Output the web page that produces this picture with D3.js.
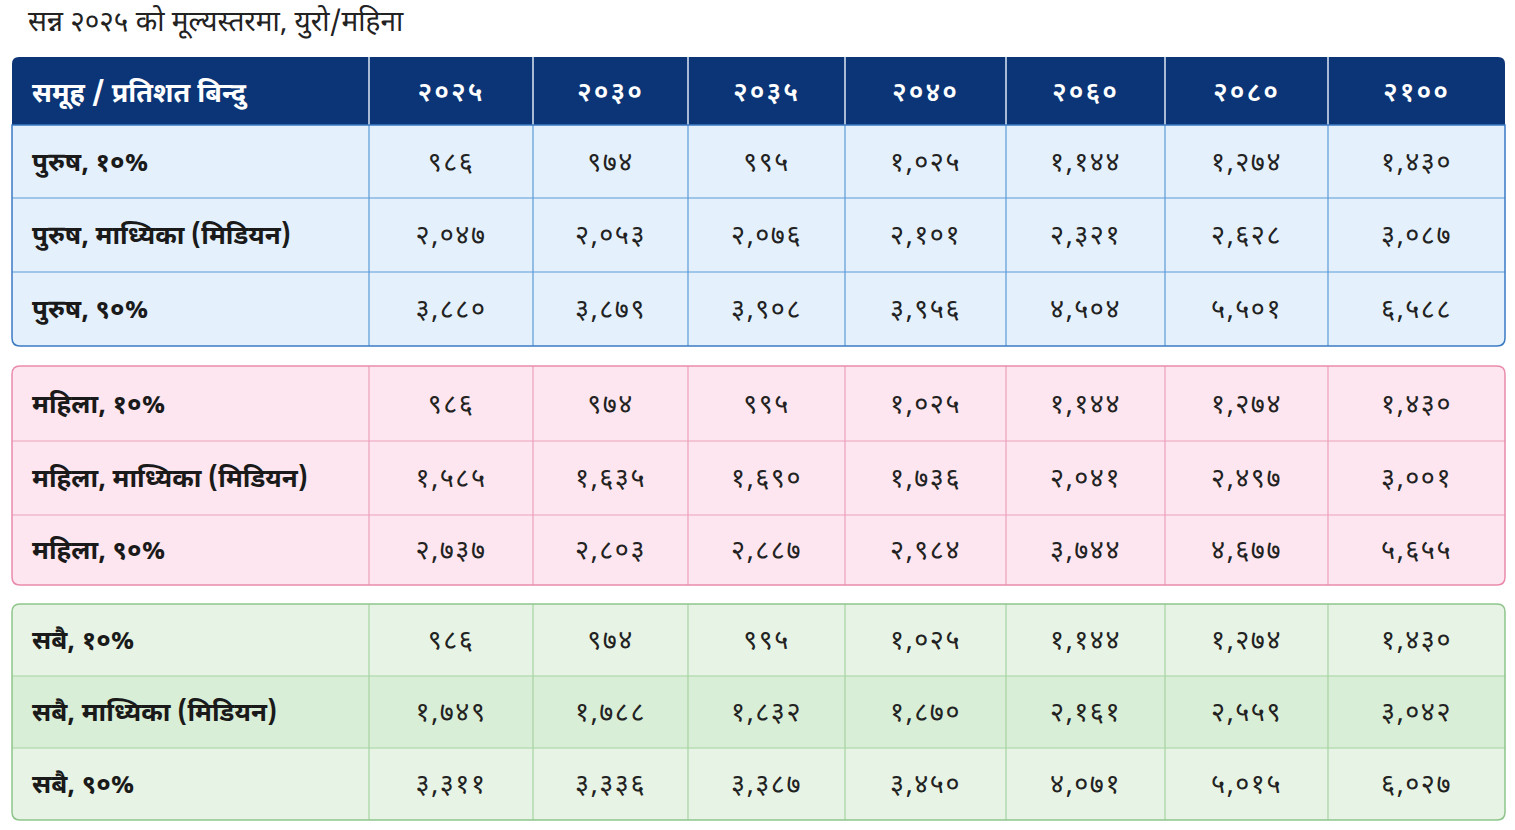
<!DOCTYPE html>
<html>
<head>
<meta charset="utf-8">
<script src="https://cdn.jsdelivr.net/npm/d3@7/dist/d3.min.js"></script>
<style>
  body { margin: 0; background: #fff; }
  svg text { font-family: "Noto Sans Devanagari", "Noto Sans", "Lohit Devanagari", sans-serif; }
</style>
</head>
<body>
<svg id="chart" width="1515" height="830"></svg>
<script>
const title = "सन्न २०२५ को मूल्यस्तरमा, युरो/महिना";
const headerLabel = "समूह / प्रतिशत बिन्दु";
const years = [2025, 2030, 2035, 2040, 2060, 2080, 2100];

const maleLabels = ["पुरुष, १०%", "पुरुष, माध्यिका (मिडियन)", "पुरुष, ९०%"];
const maleValues = [
  [986, 974, 995, 1025, 1144, 1274, 1430],
  [2047, 2053, 2076, 2101, 2321, 2628, 3087],
  [3880, 3879, 3908, 3956, 4504, 5501, 6588]
];
const femaleLabels = ["महिला, १०%", "महिला, माध्यिका (मिडियन)", "महिला, ९०%"];
const femaleValues = [
  [986, 974, 995, 1025, 1144, 1274, 1430],
  [1585, 1635, 1690, 1736, 2041, 2497, 3001],
  [2737, 2803, 2887, 2984, 3744, 4677, 5655]
];
const allLabels = ["सबै, १०%", "सबै, माध्यिका (मिडियन)", "सबै, ९०%"];
const allValues = [
  [986, 974, 995, 1025, 1144, 1274, 1430],
  [1749, 1788, 1832, 1870, 2161, 2559, 3042],
  [3311, 3336, 3387, 3450, 4071, 5015, 6027]
];

// layout
const colEdges = [12, 369, 533, 688, 845, 1006, 1165, 1328, 1505];
const groups = [
  {labels: maleLabels, values: maleValues, y: [125, 198, 272, 346], fill: ["#e4f1fc", "#e4f1fc", "#e4f1fc"], stroke: "#3b7bc4", line: "#5b9ad6", r: [0, 8]},
  {labels: femaleLabels, values: femaleValues, y: [366, 441, 515, 585], fill: ["#fde6ef", "#fde6ef", "#fde6ef"], stroke: "#e98cab", line: "#eca0b9", r: [8, 8]},
  {labels: allLabels, values: allValues, y: [604, 676, 748, 820], fill: ["#e7f4e5", "#d9eed6", "#e7f4e5"], stroke: "#8fc58c", line: "#a6d3a2", r: [8, 8]}
];

const deva = "०१२३४५६७८९";
const toDeva = s => String(s).replace(/[0-9]/g, d => deva[+d]);
const fmt = v => toDeva(d3.format(",")(v));

const svg = d3.select("#chart");
const xL = i => colEdges[i], xC = i => (colEdges[i] + colEdges[i + 1]) / 2;
const hx0 = colEdges[0], hx1 = colEdges[colEdges.length - 1];

const boxPath = (y0, y1, rt, rb) =>
  `M${hx0},${y0 + rt} Q${hx0},${y0} ${hx0 + rt},${y0} H${hx1 - rt} Q${hx1},${y0} ${hx1},${y0 + rt}` +
  ` V${y1 - rb} Q${hx1},${y1} ${hx1 - rb},${y1} H${hx0 + rb} Q${hx0},${y1} ${hx0},${y1 - rb} Z`;

svg.append("text").attr("x", 28).attr("y", 31).attr("font-size", 28).attr("fill", "#222").text(title);

// header
svg.append("path").attr("fill", "#0b3576").attr("d", boxPath(57, 125, 7, 0));
for (let i = 1; i < colEdges.length - 1; i++)
  svg.append("line").attr("x1", xL(i)).attr("x2", xL(i)).attr("y1", 57).attr("y2", 125).attr("stroke", "#dfe8f5").attr("stroke-width", 1.5);
svg.append("text").attr("x", 32).attr("y", 102).attr("font-size", 27).attr("font-weight", 700).attr("fill", "#fff").text(headerLabel);
years.forEach((y, i) => svg.append("text").attr("x", xC(i + 1)).attr("y", 101).attr("text-anchor", "middle")
  .attr("font-size", 27).attr("font-weight", 600).attr("fill", "#fff").attr("letter-spacing", 2).text(toDeva(y)));

groups.forEach((g, gi) => {
  const top = g.y[0], bot = g.y[3];
  const gg = svg.append("g");
  const clipId = "clip" + gi;
  svg.append("clipPath").attr("id", clipId).append("path").attr("d", boxPath(top, bot, g.r[0], g.r[1]));
  const body = gg.append("g").attr("clip-path", `url(#${clipId})`);
  g.values.forEach((row, ri) => {
    body.append("rect").attr("x", hx0).attr("y", g.y[ri]).attr("width", hx1 - hx0).attr("height", g.y[ri + 1] - g.y[ri])
      .attr("fill", g.fill[ri]);
  });
  for (let ri = 1; ri < 3; ri++)
    body.append("line").attr("x1", hx0).attr("x2", hx1).attr("y1", g.y[ri]).attr("y2", g.y[ri]).attr("stroke", g.line).attr("stroke-width", 1.2);
  for (let i = 1; i < colEdges.length - 1; i++)
    body.append("line").attr("x1", xL(i)).attr("x2", xL(i)).attr("y1", top).attr("y2", bot).attr("stroke", g.line).attr("stroke-width", 1.2);
  gg.append("path").attr("d", boxPath(top, bot, g.r[0], g.r[1])).attr("fill", "none").attr("stroke", g.stroke).attr("stroke-width", 1.5);
  g.values.forEach((row, ri) => {
    const cy = (g.y[ri] + g.y[ri + 1]) / 2 + 9;
    gg.append("text").attr("x", 32).attr("y", cy).attr("font-size", 26).attr("font-weight", 700).attr("fill", "#1a1a1a").text(g.labels[ri]);
    row.forEach((v, ci) => gg.append("text").attr("x", xC(ci + 1)).attr("y", cy).attr("text-anchor", "middle")
      .attr("font-size", 27).attr("fill", "#222").attr("letter-spacing", 1.5).text(fmt(v)));
  });
});
</script>
</body>
</html>
